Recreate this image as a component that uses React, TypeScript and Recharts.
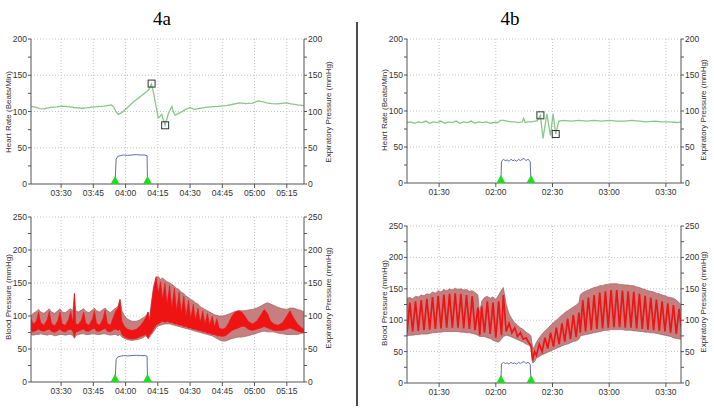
import React from "react";
import { Area, CartesianGrid, ComposedChart, Line, Scatter, XAxis, YAxis } from "recharts";

// times are minutes after midnight (mm:ss on the monitor)
const ticksA = [210, 225, 240, 255, 270, 285, 300, 315];
const ticksB = [90, 120, 150, 180, 210];

const hrA: [number, number][] = [
  [196, 107], [198, 106], [200, 104], [202, 103.5], [204, 105], [206, 106], [208, 106.5], [210, 107.5],
  [212, 107], [214, 106.5], [216, 105.5], [218, 105], [220, 104.5], [222, 105], [224, 106], [226, 106.5],
  [228, 107], [230, 107.5], [232, 108.5], [233.5, 109], [234.5, 106], [235.5, 100], [236.6, 96], [238, 98],
  [240, 103], [242, 108.5], [244, 114], [246, 118.5], [248, 123], [250, 128], [251, 131], [252, 138],
  [253, 126], [254, 110], [255.2, 91], [256, 93], [256.8, 96], [257.6, 88], [258.4, 81], [259.2, 90],
  [260, 98], [260.8, 103], [261.5, 107], [262.3, 99], [263, 95], [264.5, 97], [266, 99.5], [268, 103],
  [270, 105.5], [272, 103], [274, 104], [276, 105], [278, 106], [280, 106.5], [283, 107], [287, 108],
  [290, 110], [293, 112], [296, 111], [299, 111.5], [301.7, 114.5], [303.5, 113.5], [305.6, 112], [308, 111],
  [311, 110.5], [313, 111.5], [315, 112], [317, 110.5], [320, 109], [323, 108],
];

const expA: [number, number][] = [
  [235.1, 0], [235.6, 34], [236.3, 38], [237.5, 39], [239, 40], [241, 39.5], [243, 40], [245, 40.5],
  [247, 40], [249, 40], [250, 39], [250.2, 0],
];
const markA: [number, number][] = [[252.1, 138.5], [258.4, 81]];
const onOffA = [235.1, 250.2];

// t, diastolic, systolic, red low, red high
const bpA: [number, number, number, number, number][] = [
  [196, 72, 100, 78, 96], [197, 71, 104, 76, 88], [198.5, 72, 107, 78, 92], [199.5, 72, 110, 80, 106],
  [200.5, 73, 106, 78, 90], [202, 72, 104, 77, 86], [203.5, 71, 108, 79, 94], [204.5, 72, 111, 80, 107],
  [205.5, 72, 106, 77, 89], [207, 70, 104, 75, 85], [208.5, 71, 108, 78, 93], [209.5, 72, 111, 80, 106],
  [210.5, 72, 106, 77, 88], [212, 71, 105, 76, 86], [213.5, 72, 109, 79, 95], [214.5, 72, 111, 80, 107],
  [215.5, 70, 108, 76, 90], [216.2, 66, 134, 68, 134], [216.8, 70, 108, 75, 88], [218, 72, 106, 77, 87],
  [219.5, 73, 109, 79, 94], [220.5, 73, 111, 80, 106], [221.5, 72, 107, 77, 89], [223, 72, 105, 77, 86],
  [224.5, 73, 109, 80, 95], [225.5, 73, 112, 81, 108], [226.5, 72, 108, 77, 89], [228, 72, 106, 77, 86],
  [229.5, 73, 110, 80, 96], [230.5, 73, 112, 81, 109], [231.5, 72, 108, 77, 89], [233, 71, 105, 76, 86],
  [234.5, 72, 110, 79, 100], [235.5, 72, 112, 80, 108], [236.5, 70, 115, 78, 112], [237.4, 72, 125, 80, 125],
  [238.3, 68, 108, 72, 92], [239.5, 66, 100, 68, 84], [241, 64, 95, 66, 80], [243, 63, 92, 65, 78],
  [245, 64, 92, 66, 80], [246.5, 65, 94, 68, 84], [248, 67, 97, 70, 90], [249.5, 70, 100, 72, 98],
  [250.5, 66, 106, 66, 106], [251.2, 68, 96, 72, 90], [252, 72, 120, 74, 118], [253, 76, 145, 80, 140],
  [254.2, 82, 158, 86, 160], [255.2, 85, 160, 88, 135], [256.3, 86, 155, 90, 152], [257.2, 87, 158, 92, 125],
  [258.3, 88, 154, 90, 150], [259.3, 88, 152, 92, 118], [260.5, 88, 150, 90, 146], [261.5, 87, 148, 90, 112],
  [262.7, 86, 145, 88, 142], [263.7, 85, 142, 88, 108], [264.9, 84, 140, 86, 136], [265.9, 83, 136, 86, 104],
  [267.1, 82, 134, 84, 130], [268.1, 81, 130, 84, 100], [269.3, 80, 128, 82, 124], [270.3, 79, 125, 82, 96],
  [271.5, 78, 123, 80, 118], [272.5, 77, 120, 80, 94], [273.7, 76, 118, 78, 112], [274.7, 75, 114, 78, 90],
  [275.9, 74, 112, 76, 108], [276.9, 73, 110, 76, 88], [278.1, 72, 108, 74, 104], [279.1, 71, 106, 74, 86],
  [280.3, 70, 104, 72, 100], [281.3, 68, 102, 72, 84], [282.5, 66, 101, 70, 96], [283.5, 64, 100, 70, 82],
  [285, 62, 100, 69, 80], [286.5, 62, 101, 70, 82], [288, 64, 103, 74, 90], [289.5, 66, 105, 78, 100],
  [291, 67, 107, 80, 106], [292.5, 68, 108, 82, 108], [294, 68, 108, 84, 106], [295.5, 69, 108, 84, 100],
  [297, 70, 109, 80, 92], [299, 72, 110, 78, 88], [301, 74, 112, 80, 92], [303, 76, 115, 82, 102],
  [304.5, 77, 118, 84, 110], [306, 76, 120, 82, 104], [307.5, 76, 118, 80, 92], [309, 76, 116, 78, 88],
  [311, 74, 113, 78, 86], [313, 73, 111, 78, 90], [315, 72, 110, 80, 100], [316.5, 72, 112, 82, 108],
  [318, 72, 112, 80, 98], [320, 72, 110, 77, 88], [322, 74, 108, 75, 82], [323, 75, 106, 74, 80],
];

const hrB: [number, number][] = [
  [73, 84], [75, 85], [77, 83], [79, 85], [81, 84], [83, 86], [85, 83], [87, 85], [89, 84], [91, 86],
  [93, 83], [95, 85], [97, 84], [99, 86], [101, 83], [103, 85], [105, 84], [107, 86], [109, 83], [111, 85],
  [113, 84], [115, 85], [117, 83], [119, 84], [121, 84], [122.5, 87], [124, 87], [126, 86], [128, 85],
  [130, 85], [132, 84], [134, 85], [134.7, 90], [135.5, 84], [137, 85], [139, 85], [140.5, 86], [141.8, 86],
  [143.6, 94], [145, 62], [147, 96], [148.9, 66], [150.3, 96], [151.7, 68], [153.3, 86], [156, 87],
  [160, 86], [164, 87], [168, 86], [172, 87], [176, 86], [180, 87], [184, 86], [188, 86], [192, 87],
  [196, 86], [200, 85], [204, 86], [208, 85], [212, 85], [216, 84], [218, 85],
];

const expB: [number, number][] = [
  [122.7, 0], [123, 30], [124, 33], [125, 31], [126, 32], [127, 30], [128, 33], [129, 31], [130, 32],
  [131, 30], [132, 33], [133, 31], [134, 33], [135, 34], [136, 31], [137, 33], [138.2, 30], [138.6, 0],
];
const markB: [number, number][] = [[143.6, 94], [151.7, 68]];
const onOffB = [122.7, 138.6];

// t, diastolic, systolic, arterial trace
const bpB: [number, number, number, number][] = [
  [73, 75, 135, 80], [74.5, 76, 136, 128], [76, 76, 134, 82], [77.5, 77, 138, 130], [79, 77, 137, 83],
  [80.5, 78, 140, 132], [82, 78, 139, 84], [83.5, 78, 142, 134], [85, 79, 141, 85], [86.5, 80, 145, 137],
  [88, 80, 143, 86], [89.5, 81, 147, 139], [91, 81, 145, 87], [92.5, 82, 149, 141], [94, 82, 147, 88],
  [95.5, 82, 150, 142], [97, 82, 148, 88], [98.5, 82, 151, 143], [100, 82, 149, 88], [101.5, 81, 150, 142],
  [103, 81, 148, 87], [104.5, 80, 149, 140], [106, 80, 146, 86], [107.5, 79, 147, 138], [109, 78, 144, 84],
  [110.5, 76, 140, 120], [111.5, 74, 110, 76], [112.5, 74, 130, 122], [114, 74, 136, 80], [115.5, 72, 138, 130],
  [117, 71, 135, 78], [118.5, 68, 137, 128], [120, 66, 133, 72], [121.5, 65, 140, 130], [123, 70, 148, 76],
  [124, 74, 152, 140], [125.5, 76, 125, 82], [127, 75, 110, 95], [128.5, 73, 102, 80], [130, 71, 96, 88],
  [131.5, 69, 92, 74], [133, 67, 88, 80], [134.5, 65, 85, 70], [136, 62, 81, 72], [137.5, 60, 78, 64],
  [138.6, 57, 75, 60], [139.5, 32, 55, 36], [140.5, 34, 58, 50], [141.5, 40, 65, 44], [143, 42, 72, 62],
  [144.5, 45, 78, 50], [146, 47, 83, 72], [147.5, 49, 87, 55], [149, 51, 92, 80], [150.5, 53, 96, 58],
  [152, 55, 100, 88], [153.5, 57, 104, 62], [155, 59, 108, 95], [156.5, 61, 112, 66], [158, 62, 115, 102],
  [159.5, 64, 118, 70], [161, 66, 121, 108], [162.5, 67, 124, 73], [164, 70, 128, 112], [164.7, 75, 140, 80],
  [166, 76, 144, 132], [167.5, 77, 146, 82], [169, 78, 148, 136], [170.5, 79, 150, 84], [172, 80, 152, 140],
  [173.5, 81, 153, 86], [175, 82, 155, 144], [176.5, 83, 155, 87], [178, 84, 157, 146], [179.5, 84, 157, 88],
  [181, 85, 158, 148], [182.5, 85, 158, 89], [184, 85, 158, 148], [185.5, 85, 157, 89], [187, 85, 157, 147],
  [188.5, 84, 156, 88], [190, 84, 156, 146], [191.5, 84, 155, 88], [193, 83, 155, 145], [194.5, 83, 153, 87],
  [196, 82, 152, 142], [197.5, 82, 150, 86], [199, 81, 149, 139], [200.5, 81, 147, 85], [202, 80, 146, 136],
  [203.5, 80, 145, 84], [205, 79, 143, 133], [206.5, 78, 142, 83], [208, 77, 140, 130], [209.5, 76, 139, 82],
  [211, 75, 137, 127], [212.5, 74, 136, 80], [214, 72, 135, 124], [215.5, 71, 132, 78], [217, 70, 128, 118],
  [218, 70, 125, 90],
];

const FONT = "'Liberation Sans', Arial, sans-serif";
const GREEN = "#86c886";
const BLUE = "#5f6fae";
const PINK = "#c67f7f";
const RED = "#ee1414";

const pts = (arr: [number, number][]) => arr.map(([t, v]) => ({ t, v }));
const pad = (n: number) => String(n).padStart(2, "0");
const fmt = (m: number) => `${pad(Math.floor(m / 60))}:${pad(Math.round(m % 60))}`;

const Tri = (p: any) => (
  <polygon points={`${p.cx},${p.cy - 8} ${p.cx - 5},${p.cy + 1} ${p.cx + 5},${p.cy + 1}`} fill="#19e019" />
);
const Sq = (p: any) => <rect x={p.cx - 3.5} y={p.cy - 3.5} width={7} height={7} fill="none" stroke="#333" strokeWidth={1} />;

type PanelProps = {
  left: number; top: number; width: number; height: number;
  pl: number; pr: number; pt: number; pb: number;
  domain: [number, number]; xTicks: number[]; yMax: number;
  children: React.ReactNode;
};

function Panel({ left, top, width, height, pl, pr, pt, pb, domain, xTicks, yMax, children }: PanelProps) {
  const yTicks: number[] = [];
  for (let v = 0; v <= yMax; v += 25) yTicks.push(v);
  const gridY = yTicks.filter((v) => v > 0 && v % 50 === 0);
  const tick = { fontSize: 8.5, fill: "#333", fontFamily: FONT };
  const yFmt = (v: number) => (v % 50 === 0 ? String(v) : "");
  return (
    <div style={{ position: "absolute", left, top }}>
      <ComposedChart width={width} height={height} margin={{ top: pt - top, right: 0, bottom: 0, left: 0 }}>
        <CartesianGrid yAxisId="l" stroke="#c4c4c4" strokeDasharray="1 2" horizontalValues={gridY} verticalValues={xTicks} />
        <XAxis dataKey="t" type="number" domain={domain} ticks={xTicks} tickFormatter={fmt} interval={0}
          height={top + height - pb} stroke="#555" tickSize={4} tick={tick} allowDataOverflow />
        <YAxis yAxisId="l" domain={[0, yMax]} ticks={yTicks} tickFormatter={yFmt} interval={0}
          width={pl - left} stroke="#555" tickSize={3} tickMargin={1} tick={tick} allowDataOverflow />
        <YAxis yAxisId="r" orientation="right" domain={[0, yMax]} ticks={yTicks} tickFormatter={yFmt} interval={0}
          width={left + width - pr} stroke="#555" tickSize={3} tickMargin={1} tick={tick} allowDataOverflow />
        {children}
      </ComposedChart>
    </div>
  );
}

const titles = [
  { x: 8, y: 112, s: "Heart Rate (Beats/Min)" },
  { x: 328, y: 112, s: "Expiratory Pressure (mmHg)" },
  { x: 8, y: 297, s: "Blood Pressure (mmHg)" },
  { x: 328, y: 298, s: "Expiratory Pressure (mmHg)" },
  { x: 384, y: 110, s: "Heart Rate (Beats/Min)" },
  { x: 703, y: 110, s: "Expiratory Pressure (mmHg)" },
  { x: 384, y: 303, s: "Blood Pressure (mmHg)" },
  { x: 703, y: 302, s: "Expiratory Pressure (mmHg)" },
];

export default function App() {
  const bandA = bpA.map(([t, d, s, lo, hi]) => ({ t, band: [d, s], red: [lo, hi] }));
  const bandB = bpB.map(([t, d, s, r]) => ({ t, band: [d, s], v: r }));
  const trig = (arr: number[]) => arr.map((t) => ({ t, v: 0 }));

  return (
    <div style={{ position: "fixed", left: 0, top: 0, width: 714, height: 412, background: "#fff", overflow: "hidden" }}>
      <Panel left={0} top={0} width={340} height={200} pl={31} pr={304} pt={39} pb={184} domain={[196, 323]} xTicks={ticksA} yMax={200}>
        <Line yAxisId="l" data={pts(hrA)} dataKey="v" stroke={GREEN} strokeWidth={1.3} dot={false} isAnimationActive={false} />
        <Line yAxisId="r" data={pts(expA)} dataKey="v" stroke={BLUE} strokeWidth={1} dot={false} isAnimationActive={false} />
        <Scatter yAxisId="l" data={pts(markA)} dataKey="v" shape={Sq} isAnimationActive={false} />
        <Scatter yAxisId="r" data={trig(onOffA)} dataKey="v" shape={Tri} isAnimationActive={false} />
      </Panel>
      <Panel left={0} top={180} width={340} height={220} pl={31} pr={304} pt={217} pb={382} domain={[196, 323]} xTicks={ticksA} yMax={250}>
        <Area yAxisId="l" data={bandA} dataKey="band" type="linear" fill={PINK} fillOpacity={1} stroke="#9c6262" strokeWidth={0.7} isAnimationActive={false} />
        <Area yAxisId="l" data={bandA} dataKey="red" type="linear" fill={RED} fillOpacity={1} stroke={RED} strokeWidth={0.6} isAnimationActive={false} />
        <Line yAxisId="r" data={pts(expA)} dataKey="v" stroke={BLUE} strokeWidth={1} dot={false} isAnimationActive={false} />
        <Scatter yAxisId="r" data={trig(onOffA)} dataKey="v" shape={Tri} isAnimationActive={false} />
      </Panel>
      <Panel left={360} top={0} width={354} height={200} pl={407} pr={681} pt={39} pb={183} domain={[73, 218]} xTicks={ticksB} yMax={200}>
        <Line yAxisId="l" data={pts(hrB)} dataKey="v" stroke={GREEN} strokeWidth={1.3} dot={false} isAnimationActive={false} />
        <Line yAxisId="r" data={pts(expB)} dataKey="v" stroke={BLUE} strokeWidth={1} dot={false} isAnimationActive={false} />
        <Scatter yAxisId="l" data={pts(markB)} dataKey="v" shape={Sq} isAnimationActive={false} />
        <Scatter yAxisId="r" data={trig(onOffB)} dataKey="v" shape={Tri} isAnimationActive={false} />
      </Panel>
      <Panel left={360} top={180} width={354} height={220} pl={407} pr={681} pt={226} pb={383} domain={[73, 218]} xTicks={ticksB} yMax={250}>
        <Area yAxisId="l" data={bandB} dataKey="band" type="linear" fill={PINK} fillOpacity={1} stroke="#9c6262" strokeWidth={0.7} isAnimationActive={false} />
        <Line yAxisId="l" data={bandB} dataKey="v" stroke={RED} strokeWidth={1.7} dot={false} isAnimationActive={false} />
        <Line yAxisId="r" data={pts(expB)} dataKey="v" stroke={BLUE} strokeWidth={1} dot={false} isAnimationActive={false} />
        <Scatter yAxisId="r" data={trig(onOffB)} dataKey="v" shape={Tri} isAnimationActive={false} />
      </Panel>
      <svg width={714} height={412} style={{ position: "absolute", left: 0, top: 0, pointerEvents: "none" }}>
        <text x={162} y={25} textAnchor="middle" fontFamily="'Liberation Serif', serif" fontSize={19}>4a</text>
        <text x={510} y={25} textAnchor="middle" fontFamily="'Liberation Serif', serif" fontSize={19}>4b</text>
        <line x1={357} y1={22} x2={357} y2={406} stroke="#111" strokeWidth={1.5} />
        {titles.map((d, i) => (
          <text key={i} x={d.x} y={d.y} transform={`rotate(-90 ${d.x} ${d.y})`} textAnchor="middle"
            dominantBaseline="central" fontFamily={FONT} fontSize={8} fill="#333">{d.s}</text>
        ))}
      </svg>
    </div>
  );
}
